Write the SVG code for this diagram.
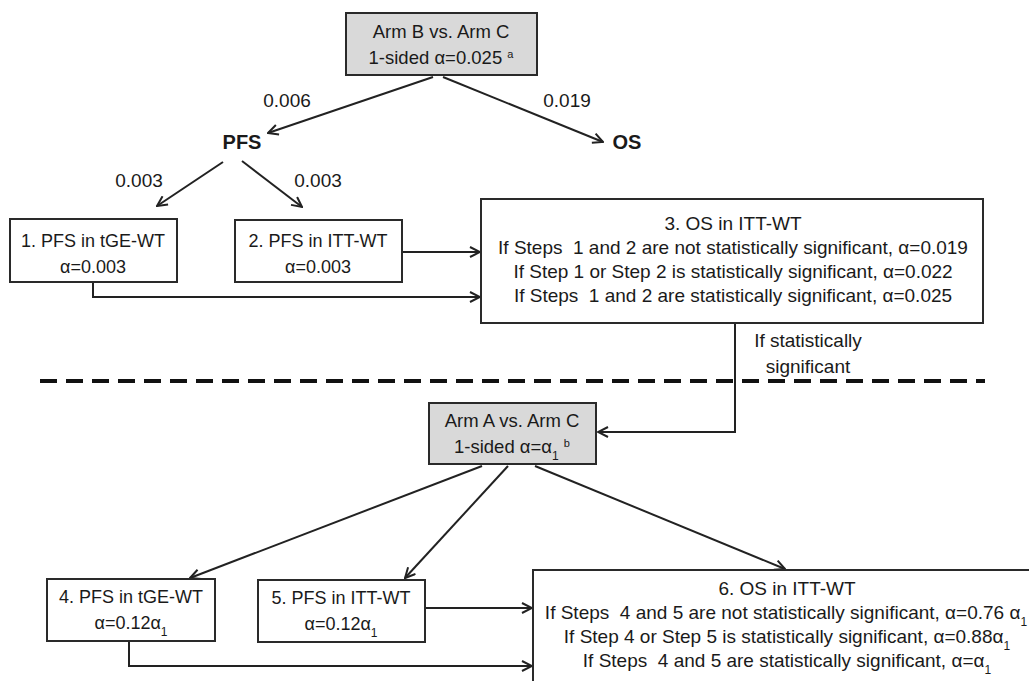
<svg xmlns="http://www.w3.org/2000/svg" width="1029" height="681" viewBox="0 0 1029 681">
<style>
text{font-family:"Liberation Sans",Arial,sans-serif;fill:#1a1a1a;text-anchor:middle;white-space:pre}
.t{font-size:18px}
.w{font-size:19px}
.lbl{font-size:19px}
.big{font-size:20px;font-weight:bold}
.box{fill:#fff;stroke:#2a2a2a;stroke-width:2}
.gbox{fill:#d9d9d9;stroke:#2a2a2a;stroke-width:2}
.c{fill:none;stroke:#222;stroke-width:2}
.sub{font-size:12px}
.sup{font-size:11px}
</style>
<defs>
<marker id="ah" viewBox="0 0 12 12" refX="11" refY="6" markerWidth="12" markerHeight="12" markerUnits="userSpaceOnUse" orient="auto">
<path d="M1,1 L11,6 L1,11" fill="none" stroke="#222" stroke-width="2"/>
</marker>
</defs>

<g id="connectors">
<line class="c" x1="433" y1="77" x2="268" y2="133" marker-end="url(#ah)"/>
<line class="c" x1="443" y1="77" x2="603" y2="142" marker-end="url(#ah)"/>
<line class="c" x1="223" y1="162" x2="157" y2="206" marker-end="url(#ah)"/>
<line class="c" x1="242" y1="161" x2="302" y2="207" marker-end="url(#ah)"/>
<line class="c" x1="402" y1="252" x2="480" y2="252" marker-end="url(#ah)"/>
<polyline class="c" points="93,282 93,297 480,297" marker-end="url(#ah)"/>
<polyline class="c" points="735,323 735,432 598,432" marker-end="url(#ah)"/>
<line class="c" x1="482" y1="466" x2="190" y2="578" marker-end="url(#ah)"/>
<line class="c" x1="508" y1="466" x2="405" y2="578" marker-end="url(#ah)"/>
<line class="c" x1="535" y1="466" x2="785" y2="569" marker-end="url(#ah)"/>
<line class="c" x1="425" y1="608" x2="532" y2="608" marker-end="url(#ah)"/>
<polyline class="c" points="129,641 129,666 532,666" marker-end="url(#ah)"/>
</g>

<g id="labels">
<text class="lbl" x="287" y="107">0.006</text>
<text class="lbl" x="567" y="107">0.019</text>
<text class="lbl" x="139" y="187">0.003</text>
<text class="lbl" x="318" y="187">0.003</text>
<text class="w" x="808" y="347">If statistically</text>
<text class="w" x="808" y="373">significant</text>
</g>

<line id="divider" x1="40" y1="381" x2="985" y2="381" stroke="#111" stroke-width="4" stroke-dasharray="17 9"/>

<g id="armBC">
<rect class="gbox" x="346" y="13" width="191" height="62"/>
<text class="t" x="441" y="38" style="font-size:18.5px">Arm B vs. Arm C</text>
<text class="t" x="441" y="64" style="font-size:18.5px">1-sided α=0.025 <tspan class="sup" baseline-shift="super">a</tspan></text>
</g>

<g id="pfs"><text class="big" x="242" y="149">PFS</text></g>
<g id="os"><text class="big" x="627" y="149">OS</text></g>

<g id="step1">
<rect class="box" x="10" y="219" width="167" height="63"/>
<text class="t" x="93" y="247">1. PFS in tGE-WT</text>
<text class="t" x="93" y="273">α=0.003</text>
</g>

<g id="step2">
<rect class="box" x="235" y="220" width="167" height="62"/>
<text class="t" x="318" y="247">2. PFS in ITT-WT</text>
<text class="t" x="318" y="273">α=0.003</text>
</g>

<g id="step3">
<rect class="box" x="481" y="199" width="502" height="124"/>
<text class="w" x="733" y="230">3. OS in ITT-WT</text>
<text class="w" x="733" y="254">If Steps  1 and 2 are not statistically significant, α=0.019</text>
<text class="w" x="733" y="278">If Step 1 or Step 2 is statistically significant, α=0.022</text>
<text class="w" x="733" y="302">If Steps  1 and 2 are statistically significant, α=0.025</text>
</g>

<g id="armAC">
<rect class="gbox" x="429" y="403" width="167" height="61"/>
<text class="t" x="512" y="427" style="font-size:18.5px">Arm A vs. Arm C</text>
<text class="t" x="512" y="453" style="font-size:18.5px">1-sided α=α<tspan class="sub" baseline-shift="sub">1</tspan> <tspan class="sup" baseline-shift="super">b</tspan></text>
</g>

<g id="step4">
<rect class="box" x="47" y="579" width="168" height="62"/>
<text class="t" x="131" y="603">4. PFS in tGE-WT</text>
<text class="t" x="131" y="629">α=0.12α<tspan class="sub" baseline-shift="sub">1</tspan></text>
</g>

<g id="step5">
<rect class="box" x="258" y="580" width="167" height="62"/>
<text class="t" x="341" y="604">5. PFS in ITT-WT</text>
<text class="t" x="341" y="630">α=0.12α<tspan class="sub" baseline-shift="sub">1</tspan></text>
</g>

<g id="step6">
<rect class="box" x="533" y="570" width="520" height="150"/>
<text class="w" x="787" y="595">6. OS in ITT-WT</text>
<text class="w" x="786" y="619">If Steps  4 and 5 are not statistically significant, α=0.76 α<tspan class="sub" baseline-shift="sub">1</tspan></text>
<text class="w" x="787" y="643">If Step 4 or Step 5 is statistically significant, α=0.88α<tspan class="sub" baseline-shift="sub">1</tspan></text>
<text class="w" x="787" y="667">If Steps  4 and 5 are statistically significant, α=α<tspan class="sub" baseline-shift="sub">1</tspan></text>
</g>
</svg>
